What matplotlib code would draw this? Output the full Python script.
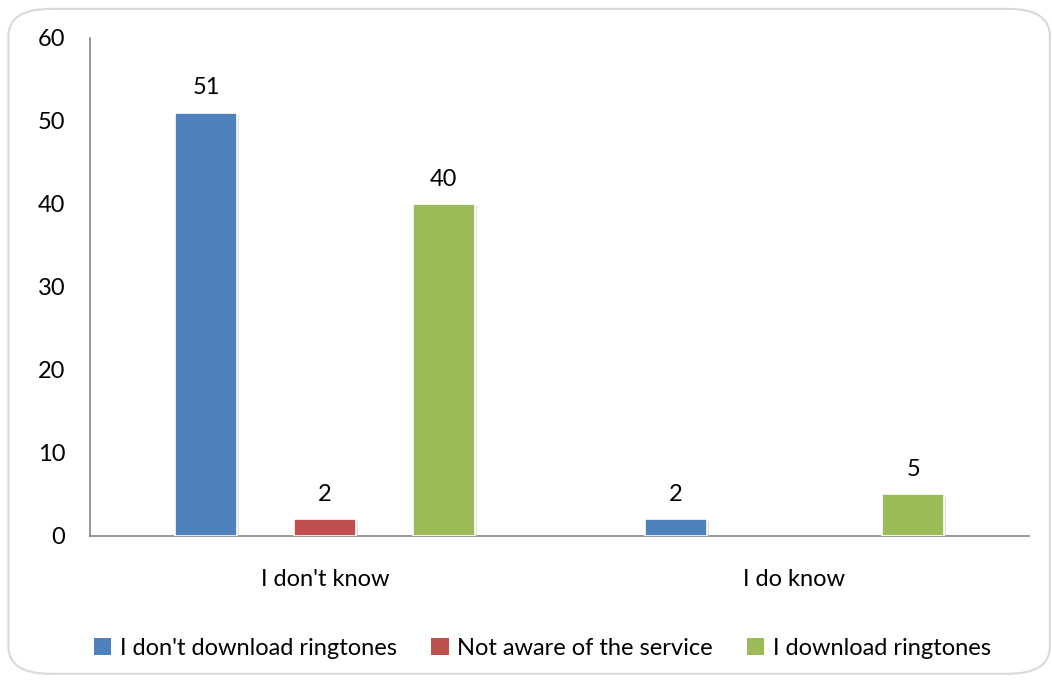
import numpy as np
import matplotlib.pyplot as plt
import matplotlib.patheffects as pe
from matplotlib.patches import FancyBboxPatch

categories = ["I don't know", "I do know"]
series_names = ["I don't download ringtones", "Not aware of the service", "I download ringtones"]
dont_download = [51, 2]
not_aware = [2, None]
download = [40, 5]
colors = ["#4f81bd", "#c0504d", "#9bbb59"]

plt.rcParams['font.family'] = ['Lato', 'DejaVu Sans']
FS = 17

fig = plt.figure(figsize=(10.52, 6.82), dpi=100)
fig.patches.append(FancyBboxPatch((0.008, 0.012), 0.99, 0.975,
                                  boxstyle="round,pad=0,rounding_size=0.04",
                                  transform=fig.transFigure, facecolor="white",
                                  edgecolor="#d9d9d9", linewidth=1.5, zorder=-1))
ax = fig.add_axes([0.0856, 0.2141, 0.8926, 0.7302])
ax.set_facecolor("none")

x = np.arange(len(categories))
width = 0.132
offsets = [-0.253, 0, 0.253]
shadow = [pe.SimplePatchShadow(offset=(1.5, -1.5), shadow_rgbFace="#bfbfbf", alpha=0.5), pe.Normal()]
for vals, off, col, name in zip([dont_download, not_aware, download], offsets, colors, series_names):
    xs = [xi + off for xi, v in zip(x, vals) if v is not None]
    vs = [v for v in vals if v is not None]
    bars = ax.bar(xs, vs, width, color=col, edgecolor="white", linewidth=1.2, label=name, zorder=3)
    for b in bars:
        b.set_path_effects(shadow)
    for b, v in zip(bars, vs):
        ax.text(b.get_x() + b.get_width() / 2, v + 3.0, str(v), ha="center", va="center",
                fontsize=FS, color="black")

ax.set_xlim(-0.5, 1.5)
ax.set_ylim(0, 60)
ax.set_yticks(range(0, 61, 10))
ax.set_xticks(x)
ax.set_xticklabels(categories)
ax.tick_params(axis="both", length=0, labelsize=FS)
ax.tick_params(axis="x", pad=24)
ax.tick_params(axis="y", pad=18)
for s in ["top", "right"]:
    ax.spines[s].set_visible(False)
for s in ["left", "bottom"]:
    ax.spines[s].set_color("#868686")
    ax.spines[s].set_linewidth(1.2)

leg = ax.legend(loc="center", bbox_to_anchor=(0.4815, -0.225), ncol=3, frameon=False,
                fontsize=FS, handlelength=0.75, handleheight=0.75, handletextpad=0.35,
                columnspacing=1.45)
for h in leg.legend_handles:
    h.set_path_effects([])
    h.set_edgecolor("none")

fig.savefig("out.png", dpi=100)
